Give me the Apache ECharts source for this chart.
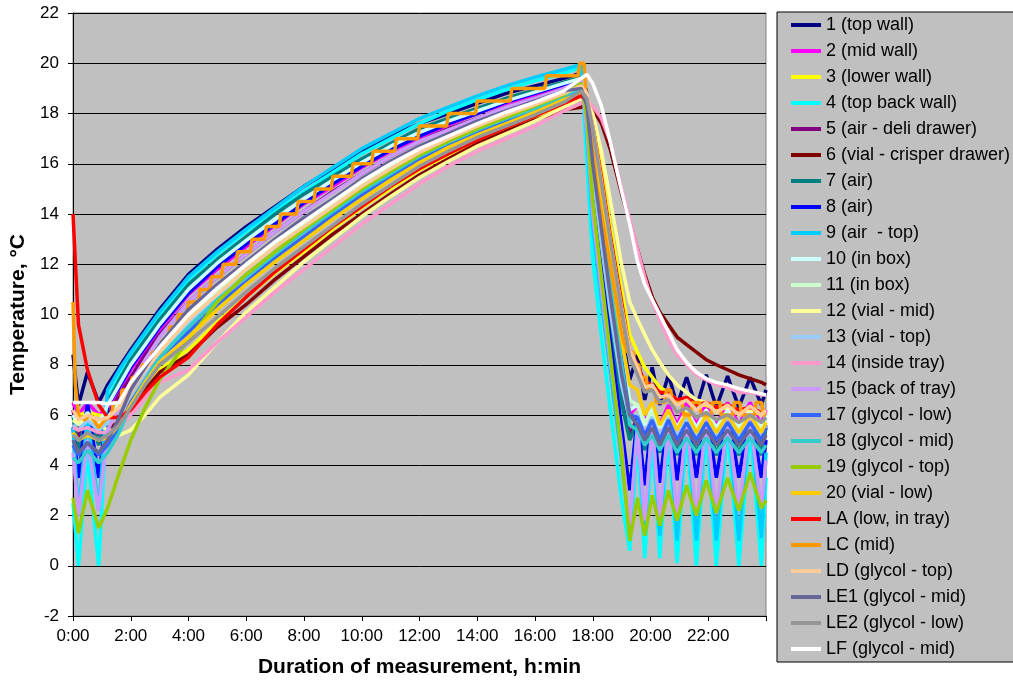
<!DOCTYPE html>
<html>
<head>
<meta charset="utf-8">
<script src="https://cdn.jsdelivr.net/npm/echarts@6/dist/echarts.min.js"></script>
<style>html,body{margin:0;padding:0;background:#fff;}#chart{width:1013px;height:683px;}</style>
</head>
<body>
<div id="chart"></div>
<script>
// Shared time grid (hours since start)
const hours = [0,0.19,0.5,0.89,1.2,1.6,2,2.5,3,4,5,6,7,8,9,10,11,12,13,14,15,16,17,17.6,17.8,18,18.3,18.6,19,19.28,19.55,19.8,20.06,20.32,20.62,20.92,21.25,21.59,21.93,22.28,22.67,23.06,23.45,23.84,24];

const s1 = [8.4,6.4,7.7,6.5,7.2,7.9,8.6,9.4,10.2, 11.6,12.6,13.5,14.3,15.1,15.8,16.5,17.1,17.6,18.0,18.4,18.8,19.1,19.4,19.6, 18.8,16.8,14.2,11.8,9.3, 7.4,8.4,6.6,7.9,6.4,7.6,6.4,7.5,6.3,7.6,6.3,7.55,6.3,7.5,6.4,7.0];
const s2 = [6.5,6.0,6.5,6.0,6.3,7.0,7.8,8.6,9.4, 10.8,11.8,12.7,13.55,14.4,15.1,15.85,16.5,17.05,17.55,18.0,18.4,18.75,19.1,19.3, 18.2,15.8,13.2,10.6,7.6, 6.0,6.4,5.7,6.4,5.6,6.4,5.6,6.5,5.6,6.5,5.6,6.5,5.6,6.5,5.6,6.2];
const s3 = [6.1,6.0,6.1,6.0,5.9,5.9,6.2,7.0,7.8, 8.6,9.7,10.7,11.65,12.5,13.4,14.25,15.0,15.75,16.35,16.9,17.4,17.85,18.4,18.6, 18.5,17.6,15.8,13.6,11.0, 9.2,8.5,7.9,7.5,7.1,6.9,6.6,6.6,6.4,6.4,6.2,6.3,6.1,6.2,6.0,6.1];
const s4 = [2.5,0.0,4.5,0.0,6.6,7.6,8.4,9.2,10.0, 11.4,12.4,13.3,14.1,14.9,15.65,16.4,17.0,17.6,18.1,18.55,18.95,19.3,19.6,19.85, 16.0,12.2,9.1,6.3,2.6, 0.6,5.0,0.3,5.2,0.3,5.3,0.1,5.4,0.0,5.5,0.0,5.5,0.0,5.5,0.0,3.5];
const s5 = [6.2,5.0,6.2,5.2,6.0,6.8,7.5,8.4,9.2, 10.5,11.5,12.4,13.3,14.1,14.9,15.6,16.3,16.9,17.4,17.8,18.25,18.6,19.0,19.25, 18.0,15.5,12.8,10.2,7.0, 5.2,5.9,4.9,6.0,4.8,6.0,4.8,6.1,4.8,6.1,4.8,6.1,4.8,6.1,4.8,5.6];
const s6 = [5.6,5.5,5.6,5.5,5.5,5.7,6.3,7.0,7.7, 8.4,9.5,10.4,11.4,12.3,13.2,14.0,14.8,15.55,16.2,16.8,17.3,17.75,18.15,18.25, 18.4,18.2,17.6,16.6,14.8, 13.7,12.6,11.6,10.7,10.1,9.6,9.1,8.8,8.5,8.2,8.0,7.8,7.6,7.45,7.3,7.2];
const s7 = [6.0,4.5,6.3,4.8,6.5,7.4,8.2,9.0,9.8, 11.2,12.2,13.1,14.0,14.8,15.5,16.2,16.8,17.4,17.8,18.2,18.6,18.95,19.25,19.45, 18.0,15.2,12.3,9.8,6.5, 5.0,5.8,4.6,5.9,4.5,6.0,4.4,6.0,4.4,6.0,4.4,6.0,4.4,6.0,4.4,5.5];
const s8 = [5.5,3.5,6.5,3.5,6.4,7.1,7.9,8.7,9.5, 10.85,11.9,12.8,13.6,14.45,15.2,15.9,16.55,17.1,17.6,18.0,18.45,18.8,19.15,19.35, 17.5,14.5,11.8,9.0,5.5, 3.0,6.0,3.2,6.1,3.3,6.1,3.4,6.2,3.5,6.2,3.5,6.2,3.5,6.2,3.5,5.0];
const s9 = [5.5,2.0,6.0,2.2,7.0,7.8,8.5,9.3,10.1, 11.5,12.5,13.4,14.25,15.1,15.85,16.6,17.2,17.8,18.25,18.7,19.1,19.45,19.75,19.95, 17.0,13.5,10.5,7.8,4.2, 1.3,5.8,1.2,6.0,1.2,6.0,1.0,6.1,1.0,6.2,1.0,6.2,1.0,6.2,1.1,4.5];
const s10 = [6.0,5.6,6.1,5.6,6.4,7.2,8.0,8.8,9.6, 11.0,12.05,12.95,13.8,14.6,15.35,16.05,16.7,17.25,17.7,18.1,18.5,18.85,19.2,19.4, 18.4,16.2,13.6,11.0,7.8, 6.2,6.4,5.6,6.3,5.5,6.2,5.5,6.2,5.5,6.2,5.5,6.2,5.5,6.2,5.5,6.0];
const s11 = [5.8,5.6,5.9,5.6,5.9,6.5,7.2,7.9,8.6, 9.9,10.95,11.9,12.8,13.6,14.4,15.2,15.9,16.5,17.05,17.55,18.0,18.4,18.8,19.1, 18.6,16.8,14.2,11.6,8.4, 6.6,6.4,5.7,6.1,5.5,6.0,5.4,6.0,5.4,6.0,5.4,6.0,5.4,6.0,5.4,5.8];
const s12 = [5.8,5.7,5.8,5.6,5.4,5.2,5.4,6.0,6.7, 7.6,8.9,10.1,11.1,12.1,13.0,13.9,14.7,15.45,16.1,16.7,17.2,17.7,18.25,18.6, 18.5,18.0,16.5,14.6,12.0, 10.5,9.8,9.2,8.6,8.1,7.6,7.2,6.9,6.6,6.5,6.3,6.3,6.2,6.2,6.1,6.1];
const s13 = [5.6,5.4,5.8,5.4,5.7,6.3,7.0,7.7,8.4, 9.7,10.75,11.7,12.6,13.45,14.25,15.05,15.75,16.4,16.95,17.45,17.9,18.3,18.75,19.2, 18.2,15.6,12.8,10.2,7.2, 5.8,6.0,5.2,5.9,5.1,5.9,5.1,5.9,5.1,5.9,5.1,5.9,5.1,5.9,5.1,5.6];
const s14 = [5.5,5.4,5.5,5.3,5.3,5.5,6.0,6.7,7.3, 7.8,8.9,9.9,10.9,11.8,12.7,13.6,14.4,15.2,15.9,16.5,17.0,17.5,18.1,18.4, 18.5,18.3,17.8,16.9,15.0, 13.8,12.6,11.5,10.5,9.8,9.0,8.4,8.0,7.6,7.4,7.2,7.1,6.9,6.9,6.8,6.8];
const s15 = [4.5,2.0,5.0,2.2,5.4,6.3,7.3,8.2,9.1, 10.5,11.5,12.4,13.3,14.1,14.85,15.6,16.3,16.9,17.35,17.8,18.25,18.6,19.0,19.3, 17.3,14.0,11.0,8.2,4.8, 1.6,5.4,1.8,5.6,1.9,5.6,2.0,5.7,2.0,5.8,2.1,5.8,2.2,5.8,2.3,4.2];
const s17 = [4.8,4.4,4.9,4.4,4.8,5.5,6.5,7.4,8.3, 9.3,10.4,11.3,12.25,13.1,13.95,14.75,15.5,16.15,16.75,17.25,17.7,18.15,18.6,18.9, 18.4,16.4,14.0,11.4,8.2, 6.0,5.9,5.2,5.8,5.0,5.8,5.0,5.7,5.0,5.7,5.0,5.7,5.0,5.7,5.0,5.5];
const s18 = [4.3,4.1,4.6,4.1,4.5,5.3,6.4,7.4,8.3, 9.5,10.6,11.5,12.4,13.3,14.1,14.9,15.6,16.3,16.85,17.35,17.8,18.2,18.7,19.0, 18.4,16.5,14.0,11.5,8.0, 5.6,5.4,4.8,5.2,4.6,5.2,4.5,5.1,4.5,5.1,4.5,5.1,4.5,5.1,4.5,4.8];
const s19 = [2.7,1.3,3.0,1.5,2.3,3.7,5.0,6.3,7.4, 9.0,10.5,11.6,12.5,13.4,14.2,15.0,15.7,16.35,16.9,17.4,17.85,18.3,18.75,19.2, 17.8,14.5,11.5,8.5,4.5, 1.0,2.7,1.2,2.8,1.6,3.0,1.8,3.2,2.0,3.4,2.1,3.5,2.2,3.7,2.3,2.6];
const s20 = [5.3,5.0,5.2,5.0,5.1,5.6,6.4,7.3,8.1, 9.1,10.2,11.2,12.1,12.95,13.8,14.6,15.35,16.05,16.65,17.15,17.6,18.05,18.55,18.8, 18.5,17.0,14.6,12.2,9.0, 7.2,7.0,6.0,6.5,5.6,6.2,5.4,6.1,5.3,6.0,5.3,6.0,5.3,6.0,5.3,5.7];
const sLA = [14.0,9.6,7.8,6.4,5.9,5.9,6.2,6.9,7.5, 8.3,9.6,10.7,11.7,12.6,13.5,14.3,15.1,15.8,16.4,16.95,17.45,17.9,18.4,18.7, 18.5,17.5,15.5,13.2,10.5, 8.6,8.0,7.3,7.2,6.9,6.9,6.6,6.7,6.4,6.5,6.3,6.4,6.2,6.3,6.1,6.2];
const sLD = [6.2,5.8,6.0,5.8,5.9,6.3,7.0,7.8,8.5, 9.8,10.8,11.8,12.7,13.5,14.3,15.1,15.8,16.45,17.0,17.5,17.95,18.35,18.8,19.1, 18.8,17.5,15.3,13.0,10.3, 8.6,7.9,7.1,7.2,6.7,6.8,6.4,6.6,6.2,6.5,6.1,6.4,6.0,6.35,6.0,6.2];
const sLE1 = [5.0,4.5,4.9,4.5,5.0,5.9,7.0,7.9,8.8, 10.2,11.2,12.1,13.0,13.85,14.6,15.4,16.1,16.7,17.2,17.7,18.1,18.5,18.9,19.0, 18.3,16.0,13.4,10.8,7.6, 6.0,5.6,5.0,5.5,4.8,5.5,4.8,5.4,4.8,5.4,4.8,5.4,4.8,5.4,4.8,5.2];
const sLE2 = [5.2,5.0,5.3,5.0,5.2,5.6,6.3,7.2,8.0, 8.9,9.9,10.9,11.85,12.7,13.55,14.4,15.15,15.9,16.5,17.05,17.5,17.95,18.45,18.9, 18.6,17.4,15.2,13.0,10.2, 8.3,7.6,6.9,7.0,6.5,6.6,6.1,6.3,5.9,6.1,5.8,6.0,5.7,6.0,5.7,5.9];
const sLF = [6.5,6.5,6.5,6.5,6.45,6.5,7.3,8.0,8.7, 10.0,11.05,12.0,12.9,13.7,14.5,15.3,16.0,16.6,17.1,17.6,18.05,18.45,18.9,19.4, 19.55,19.2,18.3,16.9,14.9, 13.6,12.1,11.2,10.6,10.0,9.3,8.6,8.1,7.7,7.45,7.3,7.2,7.05,6.95,6.85,6.8];

// LC logger (0.5 °C resolution) has its own time stamps
const lcHours = [0,0.08,0.19,0.4,0.6,0.89,1.1,1.34,1.4,1.64,1.7,1.99,2.05,2.34,2.4,2.69,2.75,3.04,3.1,3.29,3.35,3.59,3.65,3.94,4.0,4.34,4.4,4.74,4.8,5.14,5.2,5.64,5.7,6.14,6.2,6.64,6.7,7.14,7.2,7.74,7.8,8.34,8.4,8.94,9.0,9.64,9.7,10.34,10.4,11.14,11.2,11.94,12.0,12.94,13.0,13.94,14.0,15.14,15.2,16.34,16.4,17.49,17.55,17.7,17.75,17.85,17.95,18.05,18.15,18.3,18.45,18.6,18.75,18.9,19.05,19.2,19.4,19.45,19.6,19.65,19.85,19.9,20.15,20.2,20.5,20.55,20.7,20.75,21.1,21.15,21.4,21.45,21.7,21.75,22.1,22.15,22.4,22.45,22.85,22.9,23.1,23.15,23.6,23.65,23.85,23.9,24];
const lcTemps = [10.5,7.2,6.0,5.8,6.0,5.5,5.8,6.0,6.5,6.5,7.0,7.0,7.5,7.5,8.0,8.0,8.5,8.5,9.0,9.0,9.5,9.5,10.0,10.0,10.5,10.5,11.0,11.0,11.5,11.5,12.0,12.0,12.5,12.5,13.0,13.0,13.5,13.5,14.0,14.0,14.5,14.5,15.0,15.0,15.5,15.5,16.0,16.0,16.5,16.5,17.0,17.0,17.5,17.5,18.0,18.0,18.5,18.5,19.0,19.0,19.5,19.5,20.0,20.0,19.0,18.0,17.0,16.0,15.0,14.0,13.0,12.0,11.0,10.0,9.0,8.5,8.5,8.0,8.0,7.5,7.5,7.0,7.0,6.5,6.5,7.0,7.0,6.5,6.5,6.0,6.0,6.5,6.5,6.0,6.0,6.5,6.5,6.0,6.0,6.5,6.5,6.0,6.0,6.5,6.5,6.0,6.0];

const seriesNames = ['1 (top wall)','2 (mid wall)','3 (lower wall)','4 (top back wall)','5 (air - deli drawer)','6 (vial - crisper drawer)','7 (air)','8 (air)','9 (air  - top)','10 (in box)','11 (in box)','12 (vial - mid)','13 (vial - top)','14 (inside tray)','15 (back of tray)','17 (glycol - low)','18 (glycol - mid)','19 (glycol - top)','20 (vial - low)','LA (low, in tray)','LC (mid)','LD (glycol - top)','LE1 (glycol - mid)','LE2 (glycol - low)','LF (glycol - mid)'];
const seriesColors = ['#000080','#FF00FF','#FFFF00','#00FFFF','#800080','#800000','#008080','#0000FF','#00CCFF','#CCFFFF','#CCFFCC','#FFFF99','#99CCFF','#FF99CC','#CC99FF','#3366FF','#33CCCC','#99CC00','#FFCC00','#FF0000','#FF9900','#FFCC99','#666699','#969696','#FFFFFF'];

const pair = (xs, ys) => xs.map((x, i) => [x, ys[i]]);
const seriesData = [
  pair(hours, s1), pair(hours, s2), pair(hours, s3), pair(hours, s4), pair(hours, s5),
  pair(hours, s6), pair(hours, s7), pair(hours, s8), pair(hours, s9), pair(hours, s10),
  pair(hours, s11), pair(hours, s12), pair(hours, s13), pair(hours, s14), pair(hours, s15),
  pair(hours, s17), pair(hours, s18), pair(hours, s19), pair(hours, s20), pair(hours, sLA),
  pair(lcHours, lcTemps), pair(hours, sLD), pair(hours, sLE1), pair(hours, sLE2), pair(hours, sLF)
];

const FONT = "'Liberation Sans', Arial, sans-serif";
const chart = echarts.init(document.getElementById('chart'), null, {renderer: 'canvas'});
chart.setOption({
  animation: false,
  textStyle: {fontFamily: FONT, color: '#000'},
  grid: {left: 73, right: 247, top: 13, bottom: 64, show: true, backgroundColor: '#C0C0C0', borderColor: '#808080', borderWidth: 1},
  legend: {
    orient: 'vertical', left: 777, top: 12,
    padding: [0, 30, 0, 14], itemGap: 0, itemWidth: 30, itemHeight: 4, icon: 'rect',
    backgroundColor: '#C0C0C0', borderColor: '#000', borderWidth: 1,
    textStyle: {fontFamily: FONT, fontSize: 18, lineHeight: 26, color: '#000'},
    data: seriesNames
  },
  xAxis: {
    type: 'value', min: 0, max: 24, interval: 2,
    axisLine: {onZero: false, lineStyle: {color: '#000', width: 1}},
    axisTick: {show: true, length: 5, lineStyle: {color: '#000'}},
    axisLabel: {fontFamily: FONT, fontSize: 17, color: '#000', margin: 12,
      formatter: v => (v >= 24 ? '' : v + ':00')},
    splitLine: {show: false},
    name: 'Duration of measurement, h:min', nameLocation: 'middle', nameGap: 41,
    nameTextStyle: {fontFamily: FONT, fontWeight: 'bold', fontSize: 21, color: '#000'}
  },
  yAxis: {
    type: 'value', min: -2, max: 22, interval: 2,
    axisLine: {show: true, onZero: false, lineStyle: {color: '#000', width: 1}},
    axisTick: {show: true, length: 5, lineStyle: {color: '#000'}},
    axisLabel: {fontFamily: FONT, fontSize: 17, color: '#000', margin: 14},
    splitLine: {show: true, lineStyle: {color: '#000', width: 1}},
    name: 'Temperature, °C', nameLocation: 'middle', nameGap: 40, nameRotate: 90,
    nameTextStyle: {fontFamily: FONT, fontWeight: 'bold', fontSize: 21, color: '#000'}
  },
  series: seriesNames.map((name, i) => ({
    name: name, type: 'line', data: seriesData[i],
    showSymbol: false, symbol: 'none', color: seriesColors[i],
    lineStyle: {width: 3.5, color: seriesColors[i]},
    emphasis: {disabled: true}
  }))
});
</script>
</body>
</html>
